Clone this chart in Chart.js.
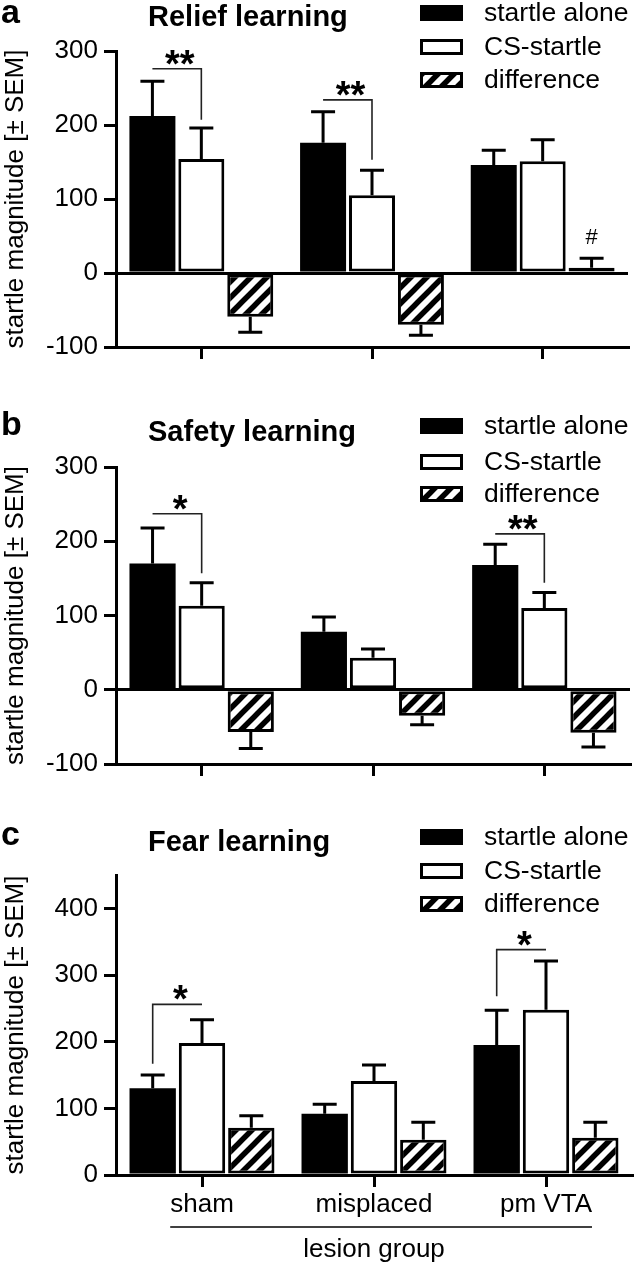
<!DOCTYPE html>
<html lang="en">
<head>
<meta charset="UTF-8">
<title>Startle magnitude by lesion group</title>
<script src="https://cdn.jsdelivr.net/npm/chart.js@4.4.1/dist/chart.umd.min.js"></script>
<style>
  body { margin: 0; background: #fff; }
  #wrap { position: relative; width: 636px; height: 1263px; }
  canvas { position: absolute; left: 0; }
</style>
</head>
<body>
<div id="wrap">
  <canvas id="chartA" width="636" height="395" style="top:0px"></canvas>
  <canvas id="chartB" width="636" height="395" style="top:395px"></canvas>
  <canvas id="chartC" width="636" height="473" style="top:790px"></canvas>
</div>
<script>
// categories and series
var groups = ["sham", "misplaced", "pm VTA"];
var seriesNames = ["startle alone", "CS-startle", "difference"];

// a - relief learning
var reliefAlone = [212, 176, 146];
var reliefAloneSem = [47, 42, 20];
var reliefCS = [154, 105, 151];
var reliefCSSem = [42, 34, 29];
var reliefDiff = [-59, -70, 7];
var reliefDiffSem = [21, 14, 13];

// b - safety learning
var safetyAlone = [170, 78, 168];
var safetyAloneSem = [48, 20, 28];
var safetyCS = [113, 43, 110];
var safetyCSSem = [31, 12, 21];
var safetyDiff = [-57, -35, -58];
var safetyDiffSem = [22, 12, 19];

// c - fear learning
var fearAlone = [130, 92, 195];
var fearAloneSem = [20, 14, 52];
var fearCS = [198, 141, 248];
var fearCSSem = [35, 24, 73];
var fearDiff = [71, 53, 56];
var fearDiffSem = [18, 26, 23];

// significance brackets: category, bracket level, end of the drop, which side drops
var reliefBrackets = [
  { cat: 0, level: 276, drop: 207, side: "right", text: "**" },
  { cat: 1, level: 234, drop: 153, side: "right", text: "**" }
];
var safetyBrackets = [
  { cat: 0, level: 237, drop: 157, side: "right", text: "*" },
  { cat: 2, level: 210, drop: 144, side: "right", text: "**" }
];
var fearBrackets = [
  { cat: 0, level: 256, drop: 167, side: "left", text: "*" },
  { cat: 2, level: 338, drop: 268, side: "left", text: "*" }
];
// "#" over the difference bar of pm VTA in relief learning
var reliefMarks = [{ cat: 2, ds: 2, text: "#" }];

var FONT = "'Liberation Sans', Arial, Helvetica, sans-serif";

function hatchPattern(ctx) {
  var s = 16;
  var c = document.createElement("canvas");
  c.width = s; c.height = s;
  var g = c.getContext("2d");
  g.fillStyle = "#fff";
  g.fillRect(0, 0, s, s);
  g.strokeStyle = "#000";
  g.lineWidth = 5.5;
  g.beginPath();
  g.moveTo(-s / 2, s / 2); g.lineTo(s / 2, -s / 2);
  g.moveTo(0, s); g.lineTo(s, 0);
  g.moveTo(s / 2, s * 1.5); g.lineTo(s * 1.5, s / 2);
  g.stroke();
  return ctx.createPattern(c, "repeat");
}

// error bars, one sided, away from zero
var errorBarPlugin = {
  id: "errorBars",
  afterDatasetsDraw: function(chart) {
    var ctx = chart.ctx, y = chart.scales.y;
    ctx.save();
    ctx.strokeStyle = "#000";
    ctx.lineWidth = 3;
    chart.data.datasets.forEach(function(ds, i) {
      chart.getDatasetMeta(i).data.forEach(function(bar, j) {
        var v = ds.data[j], e = ds.sem[j];
        var end = v >= 0 ? v + e : v - e;
        var y0 = y.getPixelForValue(v), y1 = y.getPixelForValue(end);
        ctx.beginPath();
        ctx.moveTo(bar.x, y0); ctx.lineTo(bar.x, y1);
        ctx.moveTo(bar.x - 12, y1); ctx.lineTo(bar.x + 12, y1);
        ctx.stroke();
      });
    });
    ctx.restore();
  }
};

// brackets, panel letter, title, legend
var decoPlugin = {
  id: "deco",
  afterDraw: function(chart, args, opts) {
    var ctx = chart.ctx, y = chart.scales.y, x = chart.scales.x;
    ctx.save();
    ctx.fillStyle = "#000";
    ctx.textBaseline = "alphabetic";
    ctx.textAlign = "left";
    ctx.font = "bold 34px " + FONT;
    ctx.fillText(opts.letter, 1, opts.letterY);
    ctx.textBaseline = "middle";
    ctx.font = "bold 29px " + FONT;
    ctx.fillText(opts.title, 148, opts.titleY);

    // legend
    ctx.font = "26.5px " + FONT;
    opts.legendY.forEach(function(ly, i) {
      var bx = 420, bw = 43, bh = 16, by = ly - bh / 2;
      ctx.fillStyle = chart.data.datasets[i].backgroundColor;
      ctx.fillRect(bx, by, bw, bh);
      ctx.strokeStyle = "#000";
      ctx.lineWidth = 3;
      ctx.strokeRect(bx + 1.5, by + 1.5, bw - 3, bh - 3);
      ctx.fillStyle = "#000";
      ctx.fillText(seriesNames[i], 484, ly + 1);
    });

    // significance brackets
    var m0 = chart.getDatasetMeta(0), m1 = chart.getDatasetMeta(1);
    (opts.brackets || []).forEach(function(b) {
      var xl = m0.data[b.cat].x, xr = m1.data[b.cat].x;
      var yl = y.getPixelForValue(b.level), yd = y.getPixelForValue(b.drop);
      ctx.strokeStyle = "#222";
      ctx.lineWidth = 1.6;
      ctx.beginPath();
      if (b.side === "left") {
        ctx.moveTo(xl, yd); ctx.lineTo(xl, yl); ctx.lineTo(xr, yl);
      } else {
        ctx.moveTo(xl, yl); ctx.lineTo(xr, yl); ctx.lineTo(xr, yd);
      }
      ctx.stroke();
      ctx.fillStyle = "#000";
      ctx.textAlign = "center";
      ctx.textBaseline = "alphabetic";
      ctx.font = "bold 38px " + FONT;
      ctx.fillText(b.text, (xl + xr) / 2 + 3, yl + 8);
    });
    (opts.marks || []).forEach(function(mk) {
      var ds = chart.data.datasets[mk.ds];
      var bar = chart.getDatasetMeta(mk.ds).data[mk.cat];
      var top = y.getPixelForValue(ds.data[mk.cat] + ds.sem[mk.cat]);
      ctx.fillStyle = "#000";
      ctx.textAlign = "center";
      ctx.textBaseline = "middle";
      ctx.font = "22px " + FONT;
      ctx.fillText(mk.text, bar.x, top - 20);
    });

    // line between group labels and axis title
    if (opts.underline) {
      ctx.font = "26px " + FONT;
      var n = groups.length;
      var left = x.getPixelForValue(0) - ctx.measureText(groups[0]).width / 2;
      var right = x.getPixelForValue(n - 1) + ctx.measureText(groups[n - 1]).width / 2;
      ctx.strokeStyle = "#000";
      ctx.lineWidth = 1.6;
      ctx.beginPath();
      ctx.moveTo(left, opts.underline);
      ctx.lineTo(right, opts.underline);
      ctx.stroke();
    }
    ctx.restore();
  }
};

function zeroLine(c) {
  return c.tick && c.tick.value === 0 ? "#000" : "rgba(0,0,0,0)";
}

function makePanel(id, cfg) {
  var canvas = document.getElementById(id);
  var ctx = canvas.getContext("2d");
  var hatch = hatchPattern(ctx);
  var bar = { borderColor: "#000", borderWidth: 3, borderSkipped: false, inflateAmount: 0,
              categoryPercentage: 0.86, barPercentage: 0.94 };
  return new Chart(ctx, {
    type: "bar",
    data: {
      labels: groups,
      datasets: [
        Object.assign({}, bar, { label: seriesNames[0], data: cfg.alone, sem: cfg.aloneSem,
                                 backgroundColor: "#000", borderWidth: 0 }),
        Object.assign({}, bar, { label: seriesNames[1], data: cfg.cs, sem: cfg.csSem, backgroundColor: "#fff" }),
        Object.assign({}, bar, { label: seriesNames[2], data: cfg.diff, sem: cfg.diffSem, backgroundColor: hatch })
      ]
    },
    options: {
      responsive: false,
      animation: false,
      devicePixelRatio: 1,
      layout: { padding: { top: cfg.padTop, right: cfg.padRight, left: 0, bottom: 0 } },
      plugins: {
        legend: { display: false },
        tooltip: { enabled: false },
        deco: cfg.deco
      },
      scales: {
        x: {
          offset: true,
          grid: { offset: false, drawOnChartArea: false, color: "#000", lineWidth: 3, tickLength: 12 },
          border: { color: "#000", width: 3 },
          ticks: { display: cfg.showLabels, color: "#000", padding: 2, font: { size: 26, family: FONT } },
          title: { display: cfg.showLabels, text: "lesion group", color: "#000", padding: 0,
                   font: { size: 26, family: FONT, lineHeight: 1 } },
          afterFit: function(s) { s.height = cfg.xHeight; }
        },
        y: {
          min: cfg.min, max: cfg.max,
          ticks: { stepSize: 100, includeBounds: false, color: "#000", padding: 6,
                   font: { size: 26, family: FONT } },
          grid: { color: zeroLine, lineWidth: 3, tickLength: 12, tickColor: "#000" },
          border: { color: "#000", width: 3 },
          title: { display: true, text: "startle magnitude [± SEM]", color: "#000", padding: 0,
                   font: { size: 26, family: FONT } },
          afterFit: function(s) { s.width = 116; }
        }
      }
    },
    plugins: [errorBarPlugin, decoPlugin]
  });
}

makePanel("chartA", {
  alone: reliefAlone, aloneSem: reliefAloneSem, cs: reliefCS, csSem: reliefCSSem,
  diff: reliefDiff, diffSem: reliefDiffSem,
  min: -100, max: 300, padTop: 51, padRight: 8, xHeight: 48, showLabels: false,
  deco: { letter: "a", letterY: 23, title: "Relief learning", titleY: 18,
          legendY: [13, 47, 80], brackets: reliefBrackets, marks: reliefMarks }
});

makePanel("chartB", {
  alone: safetyAlone, aloneSem: safetyAloneSem, cs: safetyCS, csSem: safetyCSSem,
  diff: safetyDiff, diffSem: safetyDiffSem,
  min: -100, max: 300, padTop: 72, padRight: 6, xHeight: 26, showLabels: false,
  deco: { letter: "b", letterY: 40, title: "Safety learning", titleY: 38,
          legendY: [31, 67, 99], brackets: safetyBrackets }
});

makePanel("chartC", {
  alone: fearAlone, aloneSem: fearAloneSem, cs: fearCS, csSem: fearCSSem,
  diff: fearDiff, diffSem: fearDiffSem,
  min: 0, max: 450, padTop: 85, padRight: 4, xHeight: 88, showLabels: true,
  deco: { letter: "c", letterY: 55, title: "Fear learning", titleY: 53,
          legendY: [47, 81, 114], brackets: fearBrackets, underline: 437 }
});
</script>
</body>
</html>
